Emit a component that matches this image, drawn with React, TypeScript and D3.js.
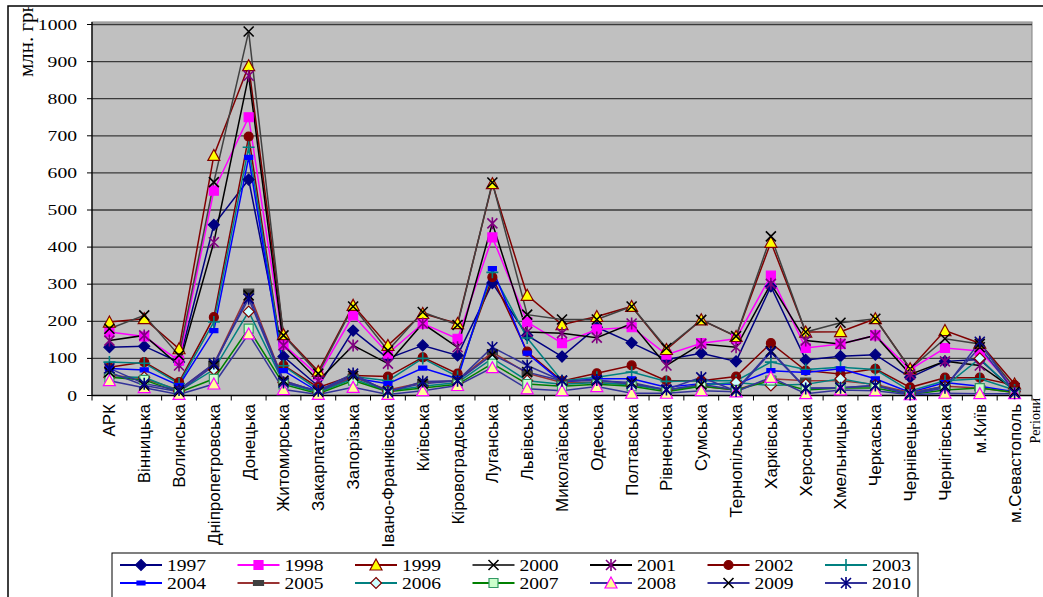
import React from 'react';
import * as d3 from 'd3';

const categories = [
    'АРК', 'Вінницька', 'Волинська', 'Дніпропетровська', 'Донецька', 'Житомирська',
    'Закарпатська', 'Запорізька', 'Івано-Франківська', 'Київська', 'Кіровоградська',
    'Луганська', 'Львівська', 'Миколаївська', 'Одеська', 'Полтавська', 'Рівненська',
    'Сумська', 'Тернопільська', 'Харківська', 'Херсонська', 'Хмельницька', 'Черкаська',
    'Чернівецька', 'Чернігівська', 'м.Київ', 'м.Севастополь',
];

const years = ['1997', '1998', '1999', '2000', '2001', '2002', '2003', '2004', '2005', '2006', '2007', '2008', '2009', '2010'];

const v1997 = [130, 133, 90, 460, 582, 105, 25, 175, 100, 135, 108, 303, 162, 105, 184, 142, 97, 114, 92, 294, 96, 106, 110, 49, 92, 97, 12];
const v1998 = [171, 159, 94, 552, 750, 137, 54, 216, 113, 194, 153, 426, 198, 141, 178, 184, 110, 141, 153, 323, 128, 139, 162, 70, 128, 120, 20];
const v1999 = [198, 207, 126, 647, 889, 164, 65, 243, 135, 221, 194, 571, 270, 191, 213, 240, 124, 204, 159, 413, 171, 172, 207, 72, 175, 141, 31];
const v2000 = [180, 216, 108, 575, 981, 162, 59, 240, 121, 225, 190, 574, 218, 205, 205, 240, 128, 204, 160, 429, 171, 196, 207, 72, 153, 139, 20];
const v2001 = [148, 162, 81, 413, 862, 135, 40, 135, 86, 194, 130, 464, 171, 168, 156, 194, 81, 139, 130, 301, 148, 139, 162, 57, 92, 81, 15];
const v2002 = [76, 90, 36, 211, 698, 81, 22, 54, 51, 103, 59, 319, 118, 39, 60, 81, 40, 40, 51, 141, 67, 58, 72, 22, 48, 48, 28];
const v2003 = [90, 87, 32, 198, 669, 80, 15, 51, 40, 100, 51, 332, 155, 40, 49, 63, 38, 40, 40, 90, 70, 76, 70, 12, 40, 45, 15];
const v2004 = [73, 69, 27, 175, 642, 67, 10, 47, 32, 74, 45, 342, 114, 36, 45, 45, 22, 32, 30, 67, 62, 72, 45, 8, 35, 25, 10];
const v2005 = [55, 45, 15, 85, 280, 40, 10, 50, 15, 35, 40, 117, 60, 35, 35, 30, 15, 25, 15, 45, 40, 40, 30, 8, 25, 20, 8];
const v2006 = [49, 49, 12, 70, 226, 35, 8, 45, 12, 25, 35, 100, 40, 30, 35, 28, 15, 28, 35, 27, 30, 45, 28, 5, 25, 100, 10];
const v2007 = [49, 42, 8, 45, 180, 30, 5, 40, 10, 20, 30, 86, 31, 25, 30, 25, 10, 25, 15, 40, 15, 20, 20, 3, 15, 20, 8];
const v2008 = [40, 21, 3, 31, 166, 16, 3, 22, 3, 13, 27, 75, 18, 13, 24, 6, 6, 13, 10, 49, 5, 15, 13, 2, 6, 5, 5];
const v2009 = [63, 27, 10, 81, 270, 40, 10, 53, 12, 32, 40, 110, 63, 40, 40, 35, 15, 30, 15, 120, 20, 21, 27, 5, 25, 130, 10];
const v2010 = [73, 32, 15, 86, 261, 35, 13, 59, 9, 38, 40, 130, 81, 40, 42, 31, 16, 49, 12, 117, 19, 21, 27, 3, 21, 145, 6];

const yTicks = [0, 100, 200, 300, 400, 500, 600, 700, 800, 900, 1000];

const SERIF = "'Liberation Serif', 'Times New Roman', 'DejaVu Serif', serif";
const SANS = "'Liberation Sans', Arial, sans-serif";

type Style = { line: string; marker: string; fill: string; stroke: string };
const styles: Style[] = [
    { line: '#000080', marker: 'diamond', fill: '#000080', stroke: '#000080' },
    { line: '#FF00FF', marker: 'square', fill: '#FF00FF', stroke: '#FF00FF' },
    { line: '#800000', marker: 'triangle', fill: '#FFFF00', stroke: '#800000' },
    { line: '#404040', marker: 'x', fill: 'none', stroke: '#000000' },
    { line: '#000000', marker: 'star', fill: 'none', stroke: '#800080' },
    { line: '#800000', marker: 'circle', fill: '#800000', stroke: '#800000' },
    { line: '#008080', marker: 'plus', fill: 'none', stroke: '#008080' },
    { line: '#0000FF', marker: 'dash', fill: '#0000FF', stroke: '#0000FF' },
    { line: '#993333', marker: 'bar', fill: '#404040', stroke: '#404040' },
    { line: '#008080', marker: 'diamond', fill: '#CCFFFF', stroke: '#800000' },
    { line: '#008000', marker: 'square', fill: '#CCFFCC', stroke: '#339966' },
    { line: '#333399', marker: 'triangle', fill: '#FFFF99', stroke: '#FF00FF' },
    { line: '#333399', marker: 'x', fill: 'none', stroke: '#000000' },
    { line: '#333399', marker: 'star', fill: 'none', stroke: '#000080' },
];
const values = [v1997, v1998, v1999, v2000, v2001, v2002, v2003, v2004, v2005, v2006, v2007, v2008, v2009, v2010];

const markerPath = (m: string) => {
    switch (m) {
        case 'diamond': return 'M0,-5.5L5.5,0L0,5.5L-5.5,0Z';
        case 'square': return 'M-4.5,-4.5H4.5V4.5H-4.5Z';
        case 'triangle': return 'M0,-6L6,5H-6Z';
        case 'x': return 'M-5,-5L5,5M-5,5L5,-5';
        case 'star': return 'M-5,-5L5,5M-5,5L5,-5M0,-6V6';
        case 'circle': return 'M4.5,0A4.5,4.5 0 1,1 -4.5,0A4.5,4.5 0 1,1 4.5,0Z';
        case 'plus': return 'M-6,0H6M0,-6V6';
        case 'dash': return 'M-4,-2H4V2H-4Z';
        case 'bar': return 'M-5,-2.5H5V2.5H-5Z';
    }
    return '';
};

const Marker = ({ s, x, y }: { s: Style; x: number; y: number }) => (
    <path
        d={markerPath(s.marker)}
        transform={`translate(${x},${y})`}
        fill={s.fill}
        stroke={s.stroke}
        strokeWidth={s.fill === 'none' ? 1.6 : 1.2}
    />
);

const App = () => {
    const left = 92, right = 1032, top = 22, bottom = 395.5;
    const x = d3.scaleBand().domain(categories).range([left, right]);
    const y = d3.scaleLinear().domain([0, 1000]).range([bottom, 24.5]);
    const cx = (i: number) => (x(categories[i]) ?? 0) + x.bandwidth() / 2;
    const line = d3.line<number>().x((_, i) => cx(i)).y(d => y(d));

    return (
        <div style={{ position: 'fixed', left: 0, top: 0 }}>
            <svg width={1043} height={597} style={{ display: 'block', background: '#fff' }}>
                <defs>
                    <clipPath id='frame'>
                        <rect x={8} y={7} width={1040} height={600} />
                    </clipPath>
                </defs>
                <rect x={8} y={6} width={1100} height={700} fill='#fff' stroke='#000' strokeWidth={1.5} />

                {/* plot area */}
                <rect x={left} y={top} width={right - left} height={bottom - top} fill='#C0C0C0' stroke='#808080' strokeWidth={1} />
                {yTicks.filter(t => t > 0).map(t => (
                    <line key={t} x1={left} x2={right} y1={y(t)} y2={y(t)} stroke='#3a3a3a' strokeWidth={1.3} />
                ))}

                {/* y axis */}
                <line x1={left} x2={left} y1={top} y2={bottom} stroke='#000' strokeWidth={1.3} />
                {yTicks.map(t => (
                    <g key={t}>
                        <line x1={left - 5} x2={left} y1={y(t)} y2={y(t)} stroke='#000' />
                        <text
                            transform={`translate(77,${y(t) + 5}) scale(1.4,1)`}
                            textAnchor='end'
                            fontFamily={SERIF}
                            fontSize={14}
                        >
                            {t}
                        </text>
                    </g>
                ))}
                <g clipPath='url(#frame)'>
                    <text transform='translate(33,77) rotate(-90)' fontFamily={SERIF} fontSize={21}>
                        млн. грн
                    </text>
                </g>

                {/* x axis */}
                <line x1={left} x2={right} y1={bottom} y2={bottom} stroke='#000' strokeWidth={1.3} />
                {categories.map(c => (
                    <line key={c} x1={x(c)} x2={x(c)} y1={bottom} y2={bottom + 5} stroke='#000' />
                ))}
                <line x1={right} x2={right} y1={bottom} y2={bottom + 5} stroke='#000' />
                {categories.map((c, i) => (
                    <text
                        key={c}
                        transform={`translate(${cx(i)},404) rotate(-90)`}
                        textAnchor='end'
                        dy='0.35em'
                        fontFamily={SANS}
                        fontSize={17}
                    >
                        {c}
                    </text>
                ))}
                <text
                    transform='translate(1035,398) rotate(-90)'
                    textAnchor='end'
                    dy='0.35em'
                    fontFamily={SERIF}
                    fontSize={14}
                >
                    Регіони
                </text>

                {/* series */}
                {values.map((vals, k) => (
                    <path key={years[k]} d={line(vals) ?? ''} fill='none' stroke={styles[k].line} strokeWidth={1.5} />
                ))}
                {values.map((vals, k) => (
                    <g key={years[k]}>
                        {vals.map((v, i) => (
                            <Marker key={i} s={styles[k]} x={cx(i)} y={y(v)} />
                        ))}
                    </g>
                ))}

                {/* legend */}
                <rect x={112} y={553} width={806} height={60} fill='#fff' stroke='#000' strokeWidth={1} />
                {years.map((yr, k) => {
                    const col = k % 7, row = Math.floor(k / 7);
                    const x0 = 120 + col * 117.5;
                    const yy = 565 + row * 18;
                    return (
                        <g key={yr}>
                            <line x1={x0} x2={x0 + 42} y1={yy} y2={yy} stroke={styles[k].line} strokeWidth={1.8} />
                            <Marker s={styles[k]} x={x0 + 21} y={yy} />
                            <text
                                transform={`translate(${x0 + 47},${yy + 6}) scale(1.15,1)`}
                                fontFamily={SERIF}
                                fontSize={17}
                            >
                                {yr}
                            </text>
                        </g>
                    );
                })}
            </svg>
        </div>
    );
};

export default App;
